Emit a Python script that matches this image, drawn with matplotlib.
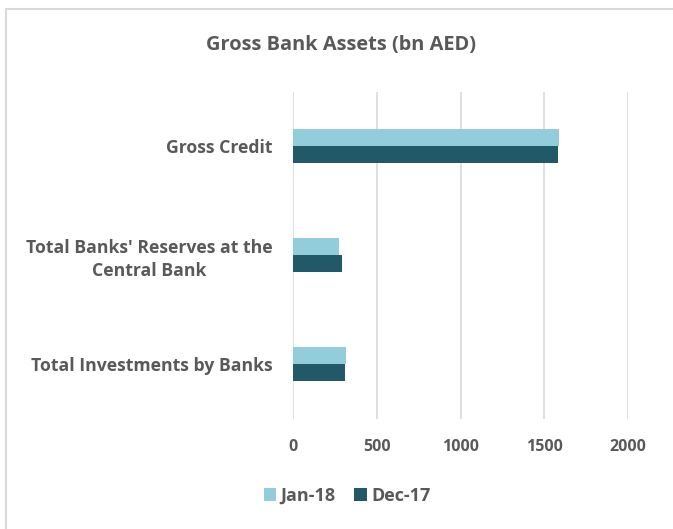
import matplotlib
matplotlib.use('Agg')
import matplotlib.pyplot as plt
import numpy as np
from matplotlib.patches import Rectangle

categories = ['Gross Credit', "Total Banks' Reserves at the\nCentral Bank", 'Total Investments by Banks']
jan18 = [1588, 275, 316]
dec17 = [1580, 292, 310]
xticks = [0, 500, 1000, 1500, 2000]

plt.rcParams['font.family'] = ['Open Sans', 'DejaVu Sans']
plt.rcParams['font.weight'] = 'bold'
txt = '#595959'

fig = plt.figure(figsize=(6.73, 5.29), dpi=100)
ax = fig.add_axes([293/673, 1-418.5/529, (628-293)/673, (418.5-91.5)/529])

# chart frame
fig.patches.append(Rectangle((6/673, -0.1), 1.2, 1-9/529+0.1, transform=fig.transFigure,
                             fill=False, edgecolor='#D9D9D9', linewidth=1.5))

y = np.arange(len(categories))
h = 0.156
ax.barh(y - h/2, jan18, height=h, color='#92CDDC', label='Jan-18', zorder=3)
ax.barh(y + h/2, dec17, height=h, color='#215968', label='Dec-17', zorder=3)

ax.set_xlim(0, 2000)
ax.set_ylim(2.5, -0.5)
ax.set_xticks(xticks)
ax.set_yticks(y)
ax.set_yticklabels(categories, ha='right', multialignment='center', linespacing=1.35)
ax.tick_params(axis='y', length=0, pad=15, labelsize=12.7, labelcolor=txt)
ax.tick_params(axis='x', length=0, pad=15, labelsize=11.5, labelcolor=txt)
ax.grid(axis='x', color='#D9D9D9', linewidth=1.2, zorder=0)
for s in ax.spines.values():
    s.set_visible(False)

fig.text(341/673, 1-45/529, 'Gross Bank Assets (bn AED)', ha='center', va='center',
         fontsize=14.4, color=txt, fontweight='bold')

ax.legend(loc='center', bbox_to_anchor=(347/673, 1-496/529), bbox_transform=fig.transFigure,
          ncol=2, frameon=False, fontsize=13, labelcolor=txt, handlelength=0.7,
          handleheight=0.7, handletextpad=0.25, columnspacing=1.0)

fig.savefig('out.png', dpi=100, facecolor='white')
